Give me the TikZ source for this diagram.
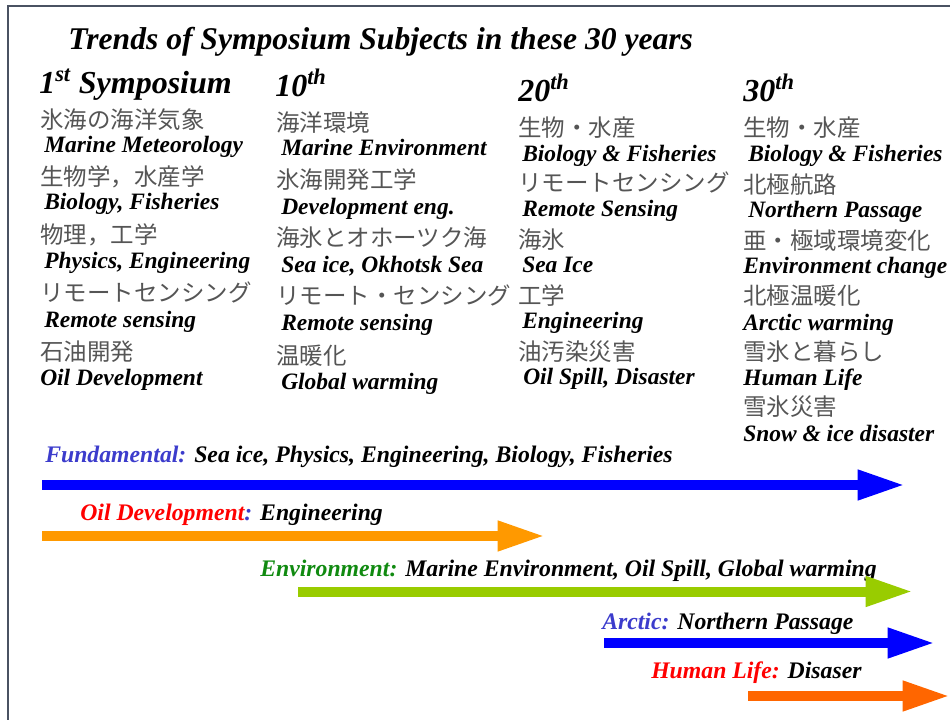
\documentclass[tikz,border=0pt]{standalone}
\usepackage{fontspec}
\setmainfont{Liberation Serif}
\newfontfamily\jpfont{Noto Sans CJK JP}
\usetikzlibrary{arrows.meta}
\definecolor{framec}{HTML}{4A5262}
\definecolor{jpgray}{HTML}{555555}
\definecolor{lblue}{HTML}{3C3CCC}
\definecolor{lred}{HTML}{FF0000}
\definecolor{lgreen}{HTML}{108A10}
\definecolor{arblue}{HTML}{0000FF}
\definecolor{arorange}{HTML}{FF9900}
\definecolor{argreen}{HTML}{99CC00}
\definecolor{arred}{HTML}{FF6600}
\begin{document}
\begin{tikzpicture}[x=0.75pt,y=-0.75pt,
  jp/.style={anchor=base west, inner sep=0pt, text=jpgray, font=\jpfont\fontsize{17.6}{20}\selectfont},
  en/.style={anchor=base west, inner sep=0pt, font=\bfseries\itshape\fontsize{17.6}{20}\selectfont},
  lbl/.style={anchor=base west, inner sep=0pt, font=\bfseries\itshape\fontsize{17.8}{20}\selectfont},
  head/.style={anchor=base west, inner sep=0pt, font=\bfseries\itshape\fontsize{24}{28}\selectfont},
  titlestyle/.style={anchor=base west, inner sep=0pt, font=\bfseries\itshape\fontsize{23.7}{28}\selectfont},
  fatarrow/.style={line width=7.5pt, draw=#1, -{Triangle[length=35.5pt,width=21pt,fill=#1]}}
]
\useasboundingbox (0,0) rectangle (950,720);
% frame
\draw[framec, line width=1.5pt] (8,721) -- (8,6) -- (951,6);

% title
\node[titlestyle] (title) at (68,50) {Trends of Symposium Subjects in these 30 years};

% headers
\node[head] (h1) at (39,94) {1\textsuperscript{st} Symposium};
\node[head] (h2) at (275,97) {10\textsuperscript{th}};
\node[head] (h3) at (518,102) {20\textsuperscript{th}};
\node[head] (h4) at (743,102) {30\textsuperscript{th}};

% column 1
\node[jp] (c1j1) at (40,129) {氷海の海洋気象};
\node[en] (c1e1) at (44,153) {Marine Meteorology};
\node[jp] (c1j2) at (40,186) {生物学，水産学};
\node[en] (c1e2) at (44,210) {Biology, Fisheries};
\node[jp] (c1j3) at (40,244) {物理，工学};
\node[en] (c1e3) at (44,269) {Physics, Engineering};
\node[jp] (c1j4) at (40,302) {リモートセンシング};
\node[en] (c1e4) at (44,328) {Remote sensing};
\node[jp] (c1j5) at (40,361) {石油開発};
\node[en] (c1e5) at (40,385) {Oil Development};

% column 2
\node[jp] (c2j1) at (276,132) {海洋環境};
\node[en] (c2e1) at (281,156) {Marine Environment};
\node[jp] (c2j2) at (276,189) {氷海開発工学};
\node[en] (c2e2) at (281,215) {Development eng.};
\node[jp] (c2j3) at (276,247) {海氷とオホーツク海};
\node[en] (c2e3) at (281,273) {Sea ice, Okhotsk Sea};
\node[jp] (c2j4) at (276,305) {リモート・センシング};
\node[en] (c2e4) at (281,331) {Remote sensing};
\node[jp] (c2j5) at (276,364) {温暖化};
\node[en] (c2e5) at (281,389) {Global warming};

% column 3
\node[jp] (c3j1) at (518,137) {生物・水産};
\node[en] (c3e1) at (522,162) {Biology \& Fisheries};
\node[jp] (c3j2) at (518,192) {リモートセンシング};
\node[en] (c3e2) at (522,217) {Remote Sensing};
\node[jp] (c3j3) at (518,249) {海氷};
\node[en] (c3e3) at (522,273) {Sea Ice};
\node[jp] (c3j4) at (518,305) {工学};
\node[en] (c3e4) at (522,329) {Engineering};
\node[jp] (c3j5) at (518,360) {油汚染災害};
\node[en] (c3e5) at (523,384) {Oil Spill, Disaster};

% column 4
\node[jp] (c4j1) at (743,137) {生物・水産};
\node[en] (c4e1) at (748,162) {Biology \& Fisheries};
\node[jp] (c4j2) at (743,194) {北極航路};
\node[en] (c4e2) at (748,218) {Northern Passage};
\node[jp] (c4j3) at (743,250) {亜・極域環境変化};
\node[en] (c4e3) at (743,274) {Environment change};
\node[jp] (c4j4) at (743,305) {北極温暖化};
\node[en] (c4e4) at (743,330) {Arctic warming};
\node[jp] (c4j5) at (743,361) {雪氷と暮らし};
\node[en] (c4e5) at (743,385) {Human Life};
\node[jp] (c4j6) at (743,416) {雪氷災害};
\node[en] (c4e6) at (743,441) {Snow \& ice disaster};

% trend labels
\node[lbl] (l1) at (45,462) {\textcolor{lblue}{Fundamental:} Sea ice, Physics, Engineering, Biology, Fisheries};
\node[lbl] (l2) at (80,520) {\textcolor{lred}{Oil Development}\textcolor{lblue}{:} Engineering};
\node[lbl] (l3) at (260,576) {\textcolor{lgreen}{Environment:} Marine Environment, Oil Spill, Global warming};
\node[lbl] (l4) at (602,629) {\textcolor{lblue}{Arctic:} Northern Passage};
\node[lbl] (l5) at (651,678) {\textcolor{lred}{Human Life:} Disaser};

% arrows
\coordinate (a1s) at (42,485);  \coordinate (a1e) at (905,485);
\coordinate (a2s) at (42,536);  \coordinate (a2e) at (545,536);
\coordinate (a3s) at (298,591.5); \coordinate (a3e) at (913,591.5);
\coordinate (a4s) at (604,643); \coordinate (a4e) at (935,643);
\coordinate (a5s) at (748,696); \coordinate (a5e) at (950,696);
\draw[fatarrow=arblue] (a1s) -- (a1e);
\draw[fatarrow=arorange] (a2s) -- (a2e);
\draw[fatarrow=argreen] (a3s) -- (a3e);
\draw[fatarrow=arblue] (a4s) -- (a4e);
\draw[fatarrow=arred] (a5s) -- (a5e);
\end{tikzpicture}
\end{document}
